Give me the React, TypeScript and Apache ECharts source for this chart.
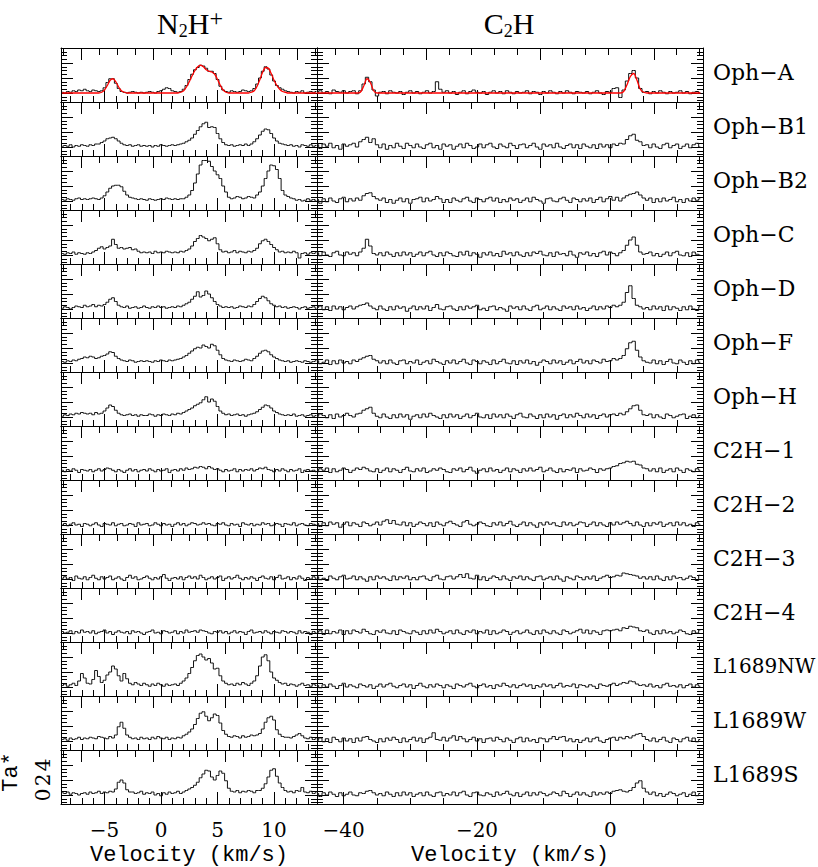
import React, { useEffect, useRef } from "react";
import * as echarts from "echarts";

const SOURCES = ["Oph\u2212A", "Oph\u2212B1", "Oph\u2212B2", "Oph\u2212C", "Oph\u2212D", "Oph\u2212F", "Oph\u2212H", "C2H\u22121", "C2H\u22122", "C2H\u22123", "C2H\u22124", "L1689NW", "L1689W", "L1689S"];

// channel grids (km/s); spectra values are in units of 0.1 K
const N2H_V0 = -8.75;
const N2H_DV = 0.25;
const C2H_V0 = -44;
const C2H_DV = 0.5;
const VALUE_SCALE = 0.1;

// tick values
const N2H_TICKS = [-5, 0, 5, 10];
const N2H_MINOR_TICKS = [-8, -7, -6, -5, -4, -3, -2, -1, 0, 1, 2, 3, 4, 5, 6, 7, 8, 9, 10, 11, 12, 13];
const C2H_TICKS = [-40, -20, 0];
const C2H_MINOR_TICKS = [-40, -35, -30, -25, -20, -15, -10, -5, 0, 5, 10];
const N2H_TOP_TICKS = [0, 4, 8, 12];
const N2H_TOP_MINOR_TICKS = [-1, 0, 1, 2, 3, 4, 5, 6, 7, 8, 9, 10, 11, 12, 13];
const C2H_TOP_TICKS = [0, 5, 10];
const C2H_TOP_MINOR_TICKS = [-4, -3, -2, -1, 0, 1, 2, 3, 4, 5, 6, 7, 8, 9, 10, 11, 12];
const TA_TICKS = [0, 2, 4];
const TA_MAJOR_TICKS = [0, 2, 4, 6];
const TA_MINOR_TICKS = [-1, -0.5, 0, 0.5, 1, 1.5, 2, 2.5, 3, 3.5, 4, 4.5, 5, 5.5, 6];

// ---- N2H+ spectra (91 channels) ----
const N2H_OPH_A = [1,0,2,1,3,2,4,3,5,3, 2,4,3,2,3,7,14,19,19,13, 6,2,1,0,1,2,1,0,1,0, 1,2,1,0,2,3,5,7,6,3, 2,1,2,5,10,18,25,31,34,37, 36,33,29,29,26,18,9,4,2,1, 3,2,1,2,4,3,2,3,6,12, 20,29,35,32,24,16,10,7,5,3, 2,1,0,2,1,3,0,1,2,1,2];
const N2H_FIT_OPH_A = [0,0,0,0,0,0,0,0,0,0, 0,0,0,0,1,4,10,17,19,15, 8,3,1,0,0,0,0,0,0,0, 0,0,0,0,0,0,0,0,0,0, 0,0,1,3,8,15,23,30,35,37, 35,31,29,28,25,18,10,4,1,0, 0,0,0,0,0,0,0,1,3,9, 18,28,34,33,26,17,10,5,2,1, 0,0,0,0,0,0,0,0,0,0,0];
const N2H_OPH_B1 = [1,2,1,3,0,2,1,3,2,1, 3,2,4,4,6,8,11,12,13,11, 8,5,3,2,3,1,2,3,1,2, 1,2,0,2,1,3,2,1,2,3, 2,3,4,5,7,9,12,17,22,27, 31,33,26,27,26,18,11,6,3,2, 3,1,2,3,2,4,2,4,7,11, 16,21,24,23,18,12,8,5,4,3, 2,3,1,2,0,3,2,1,3,1,2];
const N2H_OPH_B2 = [2,1,3,2,1,3,4,2,3,2, 3,4,3,2,4,7,12,17,20,21, 21,19,13,8,5,4,3,2,3,2, 1,3,2,1,2,3,2,4,3,2, 3,2,3,3,5,8,14,24,36,48, 54,54,53,46,40,35,30,20,12,5, 3,4,6,5,3,4,6,5,4,8, 12,20,30,40,48,47,42,30,14,8, 6,4,3,1,2,0,1,3,1,2,0];
const N2H_OPH_C = [2,1,3,2,4,1,3,2,1,3, 2,4,6,9,11,8,10,12,21,14, 9,10,8,9,10,7,8,5,3,4, 3,4,2,5,3,4,3,5,4,3, 4,3,5,4,6,8,12,18,22,26, 24,22,19,21,23,15,7,4,5,3, 4,6,3,5,4,3,5,4,6,9, 15,19,21,18,14,10,7,4,5,3, 4,3,5,3,-4,2,3,1,3,2,3];
const N2H_OPH_D = [1,3,2,0,2,4,3,2,5,3, 4,6,3,5,4,6,9,13,15,10, 5,3,2,4,1,2,3,1,2,4, 2,1,3,2,4,2,3,1,2,3, 2,4,3,5,7,9,13,17,23,16, 18,24,20,15,10,6,4,2,3,2, 3,1,2,4,3,2,4,3,6,10, 14,17,15,11,7,5,3,4,2,3, 1,2,3,2,0,2,3,1,2,3,1];
const N2H_OPH_F = [2,1,3,2,4,3,5,6,8,7, 9,8,6,7,9,10,12,15,14,9, 6,4,3,2,4,3,1,2,3,2, 3,2,1,3,2,4,3,2,4,3, 4,5,6,8,10,13,16,19,21,20, 24,22,20,25,23,17,11,6,4,3, 2,4,3,2,3,5,4,3,6,9, 13,16,17,15,11,8,6,4,3,2, 3,1,2,3,2,1,3,2,1,2,3];
const N2H_OPH_H = [1,3,2,4,3,5,4,6,5,4, 5,3,6,4,5,8,12,16,14,9, 5,3,2,3,4,2,3,1,3,2, 2,4,3,1,3,2,4,3,2,4, 3,5,4,6,8,10,12,15,17,19, 23,27,20,24,21,14,8,5,3,4, 2,3,4,2,3,1,3,4,5,7, 10,13,16,15,12,8,6,4,3,2, 3,2,4,1,2,3,1,2,3,1,2];
const N2H_C2H_1 = [1,-1,2,0,3,1,-2,2,1,0, 2,-1,1,3,0,2,4,3,1,-1, 2,0,-2,1,3,0,2,-1,1,2, 0,3,1,-1,2,0,1,3,-2,1, 2,0,3,1,4,2,3,5,4,6, 5,3,6,4,2,3,1,-1,2,0, 1,3,-1,2,0,2,1,3,0,2, 4,3,5,2,1,-1,2,0,3,1, -1,2,0,1,3,-2,1,2,0,1,-1];
const N2H_C2H_2 = [0,2,-1,1,3,0,1,-2,2,1, -1,1,3,0,-2,2,1,0,3,-1, 1,2,-1,0,2,1,-2,3,0,1, 2,-1,0,3,1,-1,2,0,1,-2, 1,3,0,2,-1,1,3,2,0,1, 3,1,2,0,-1,2,1,3,0,-1, 2,0,1,-2,3,1,0,2,-1,1, 0,3,1,2,-1,0,2,1,-2,2, 1,0,3,-1,1,2,0,-1,2,1,0];
const N2H_C2H_3 = [1,3,0,2,-2,4,1,0,3,-1, 2,5,1,-1,3,0,2,4,-1,1, 3,0,-2,2,5,1,3,-1,0,2, 4,1,-1,2,0,3,6,1,-2,1, 2,0,3,-1,2,4,1,3,0,5, 2,-1,1,3,0,2,4,-2,1,3, 0,2,5,1,-1,2,0,3,1,-2, 2,4,1,0,3,-1,2,5,0,1, 3,-1,2,0,4,1,-2,2,0,3,1];
const N2H_C2H_4 = [2,0,1,3,-1,2,0,4,1,2, 0,3,-1,1,2,4,0,2,-2,1, 3,1,0,2,-1,3,1,2,0,-2, 1,2,4,0,1,-1,3,2,0,1, 3,-1,2,0,4,1,2,3,1,4, 3,2,0,-1,2,1,3,0,2,-1, 1,3,0,2,1,-2,2,4,0,1, 2,0,3,1,-1,2,1,0,3,2, 0,2,1,-1,3,0,2,1,-2,2,0];
const N2H_L1689NW = [2,4,1,3,5,2,8,18,12,5, 4,10,22,14,6,9,16,20,28,24, 15,8,18,11,5,3,6,4,2,5, 3,1,4,2,5,3,1,4,2,3, 4,2,5,8,12,18,26,35,42,44, 40,36,38,32,24,25,15,8,5,3, 4,2,5,3,6,4,2,5,8,15, 28,40,43,35,20,12,9,6,4,5, 2,4,3,1,3,5,2,3,1,4,2];
const N2H_L1689W = [2,3,1,4,2,3,5,2,4,3, 5,4,3,6,5,4,3,6,4,8, 19,25,17,8,5,3,4,2,5,3, 4,2,5,3,6,4,3,5,2,4, 3,5,4,7,9,12,16,22,30,37, 39,33,27,31,36,34,24,14,9,6, 5,7,6,4,7,5,6,8,7,8, 10,16,25,31,33,28,15,9,6,5, 5,4,6,8,10,7,4,3,5,2,3];
const N2H_L1689S = [3,2,4,1,3,2,0,2,3,1, 4,2,3,5,2,4,3,5,4,8, 17,20,16,7,4,4,2,3,5,1, 3,2,4,0,2,-1,3,1,4,2, 3,5,2,4,6,8,10,13,17,23, 28,33,32,24,20,26,32,29,19,9, 5,4,6,3,5,4,6,5,3,6, 6,9,15,24,33,35,25,16,10,6, 4,5,3,6,5,10,4,3,5,2,3];

// ---- C2H spectra (116 channels) ----
const C2H_OPH_A = [1,3,0,2,-1,4,2,1,3,0, 2,3,-1,3,12,21,15,4,-4,1, 2,-1,3,1,0,2,-2,1,3,0, 2,-1,1,3,0,2,15,5,1,3, 0,2,-2,1,3,-1,2,4,1,0, 2,-2,1,3,0,2,-1,3,1,-1, 2,0,1,3,-1,2,1,-2,2,0, 3,1,-1,2,0,3,1,-1,2,1, 0,2,-1,1,3,0,-2,2,1,6, 7,-6,4,16,26,30,20,6,1,2, -1,2,0,3,1,-1,2,0,1,3, 0,2,-1,1,2,0];
const C2H_FIT_OPH_A = [0,0,0,0,0,0,0,0,0,0, 0,0,0,1,9,19,14,3,0,0, 0,0,0,0,0,0,0,0,0,0, 0,0,0,0,0,0,0,0,0,0, 0,0,0,0,0,0,0,0,0,0, 0,0,0,0,0,0,0,0,0,0, 0,0,0,0,0,0,0,0,0,0, 0,0,0,0,0,0,0,0,0,0, 0,0,0,0,0,0,0,0,0,0, 0,0,2,11,22,26,17,5,1,0, 0,0,0,0,0,0,0,0,0,0, 0,0,0,0,0,0];
const C2H_OPH_B1 = [3,-2,4,1,5,-1,2,-3,4,1, 3,5,0,7,10,13,6,11,3,-1, 4,-3,2,-1,5,1,-2,5,2,-1, 4,0,-2,3,5,-1,2,-3,4,1, 3,-3,1,4,-1,5,2,-2,0,4, -1,3,5,0,-2,4,1,-1,5,2, -2,3,4,-1,2,5,0,-3,4,1, 3,-1,5,0,-2,2,4,-1,3,-2, 4,1,-1,3,-2,4,0,3,-1,4, 2,5,4,10,15,17,9,7,2,3, -1,4,0,-2,3,5,-1,2,4,-2, 1,4,-1,3,5,0];
const C2H_OPH_B2 = [2,-3,3,-1,4,0,-2,3,5,-1, 3,0,4,1,7,10,11,6,3,1, 4,-2,2,-3,1,4,-1,3,-3,2, 3,5,-1,4,0,2,6,3,-2,2, -2,4,1,-1,3,5,0,-2,4,2, -1,3,5,0,4,-2,2,-1,4,1, 3,-2,1,4,-1,5,2,0,-3,3, 4,0,-1,3,5,1,-2,4,2,-1, 3,0,4,-2,2,5,-1,3,6,1, 5,0,4,7,9,10,12,8,4,1, 4,-2,3,-1,4,0,2,5,-1,2, -2,3,0,4,1,3];
const C2H_OPH_C = [3,-1,4,0,-2,3,5,0,-1,4, 1,3,-1,4,9,21,12,2,0,3, -1,4,1,-2,3,-1,4,0,3,-2, 1,4,-1,3,5,0,-2,3,-1,4, 2,-1,-2,4,0,5,-1,3,1,-3, 3,0,4,-1,2,-2,5,1,3,-1, 4,0,-2,3,-1,4,2,5,0,-1, 3,-2,4,1,2,-1,5,0,-3,3, 1,4,-1,2,-2,3,5,0,4,2, -1,3,6,13,20,24,13,4,1,2, 4,-1,2,-2,1,4,-1,3,5,0, -1,3,-2,4,1,0];
const C2H_OPH_D = [2,4,-1,3,-2,4,0,3,-1,2, 4,0,3,5,6,8,4,1,-1,4, 0,-2,3,-1,4,1,3,-3,1,4, -1,3,0,4,-2,2,6,0,-1,3, 4,0,-2,3,-1,4,1,3,5,-1, 1,-2,3,4,-1,2,0,-3,4,1, 3,-1,4,0,-2,3,5,-1,1,4, -1,3,0,-2,4,1,3,-1,4,0, 2,-2,1,4,-1,3,0,4,2,5, 3,5,9,22,31,14,5,3,0,2, -1,4,0,3,-2,4,-1,3,1,-2, 3,-1,4,0,-2,3];
const C2H_OPH_F = [3,-1,1,4,-2,3,-1,4,0,2, -1,4,2,5,7,9,10,5,3,0, 3,-1,4,0,-2,3,4,-1,2,0, 4,-2,1,3,-1,5,2,0,-2,3, 0,4,-1,2,5,0,-2,4,2,-1, 3,1,-2,4,-1,2,5,0,-1,3, -2,3,0,4,-1,2,-3,1,4,2, -1,4,0,3,-2,1,4,-1,2,5, 0,3,-1,4,2,0,5,2,3,6, 4,6,10,19,27,29,17,8,3,1, 0,4,-1,3,-2,2,5,0,-1,4, 1,-2,3,-1,4,1];
const C2H_OPH_H = [1,4,2,-1,3,-2,4,0,2,5, 2,0,4,5,9,11,13,5,1,-1, 4,0,-2,3,-1,4,0,3,-3,1, 3,-1,4,0,5,2,0,-2,3,-1, 4,0,3,-2,1,4,-1,2,5,0, -1,3,-2,4,0,3,-1,4,1,-2, 3,5,0,-1,4,1,-2,3,-1,4, 0,3,-3,2,4,-1,3,0,5,2, -1,4,0,3,-2,2,4,0,3,4, 2,5,3,7,11,15,16,9,3,2, 4,-1,3,0,-2,4,2,-1,1,3, 4,-2,1,3,-1,2];
const C2H_C2H_1 = [-1,3,1,4,-2,3,-1,1,4,2, -2,1,4,2,5,3,0,-1,3,-2, 1,4,-1,3,1,-2,2,5,0,-1, 3,0,4,-2,0,3,1,4,2,-1, -2,3,1,4,-1,2,5,0,-3,1, 3,-1,4,0,2,-2,1,4,-1,3, 1,-2,3,0,4,0,2,5,-1,1, 4,0,-2,3,-1,2,1,4,-2,3, 0,1,4,2,-2,3,1,3,4,6, 7,10,11,13,12,13,9,8,4,3, 0,3,-1,4,-2,1,3,-1,4,1, -2,3,1,-1,3,1];
const C2H_C2H_2 = [2,-2,3,-1,4,1,3,-3,1,4, -1,3,1,-2,4,2,-1,1,4,0, 5,7,2,6,1,0,4,-1,3,-2, 1,4,2,-1,3,-2,4,1,-1,3, 5,2,0,-2,4,6,1,-1,1,4, 2,-1,-2,3,0,4,-1,2,5,0, -2,1,4,-1,3,0,-3,3,0,4, 1,3,-1,-2,4,0,3,-1,1,4, 3,-2,1,4,-1,3,0,-2,3,0, 4,1,3,5,2,-1,4,0,-2,3, -1,3,1,4,-2,1,3,-1,4,0, 3,-1,1,-2,3,1];
const C2H_C2H_3 = [3,-1,1,-2,4,1,-1,3,5,0, 1,4,-1,3,0,-3,3,-1,4,1, 3,0,-2,4,-1,3,1,4,-1,2, -1,3,4,0,-2,3,5,0,-1,3, 4,0,3,6,2,7,1,0,5,-1, 3,-2,1,4,2,-1,4,0,-2,3, 1,4,-1,3,0,-2,3,4,-1,1, 3,-1,4,0,-3,3,1,-1,4,2, -1,3,0,4,-2,1,3,5,2,3, 5,4,8,7,6,5,4,1,3,0, 3,-1,4,0,-2,3,-1,4,1,2, -1,1,4,2,-2,5];
const C2H_C2H_4 = [1,3,-2,4,-1,2,0,4,-2,3, -1,4,2,0,5,2,-1,-2,3,1, 4,0,-1,3,-2,4,2,0,-1,3, 1,-2,3,-1,4,0,5,2,-1,1, 3,-1,4,0,-2,3,1,4,-1,2, 0,4,-2,3,-1,1,4,2,-2,1, 3,-1,1,4,0,-2,3,-1,4,1, -1,3,0,-2,4,2,-1,1,3,5, 0,4,-1,3,1,-2,3,4,3,4, 5,3,7,6,9,8,7,3,2,4, 0,-2,3,-1,4,0,2,-1,1,4, 2,-1,-2,3,0,4];
const C2H_L1689NW = [2,-1,3,0,4,1,-2,2,5,0, 3,1,-1,4,2,0,3,-2,1,4, 0,3,5,1,-1,2,4,0,3,-2, 2,5,1,-1,3,0,4,2,-1,3, 1,-2,4,2,0,3,5,1,-1,2, 4,0,2,-2,3,1,5,2,0,3, -1,2,4,1,3,-2,2,0,4,1, 3,-1,2,5,0,2,1,4,-1,3, 2,0,3,1,-2,4,2,1,3,5, 2,4,6,5,8,7,4,2,3,1, 4,0,2,-1,3,5,1,2,0,3, -1,2,4,0,3,1];
const C2H_L1689W = [1,4,-1,3,-2,5,2,-1,4,0, 3,-2,4,0,5,6,2,0,-2,3, -1,4,1,5,2,-2,4,-1,2,5, 0,4,-2,3,5,11,2,1,5,0, 4,7,1,6,3,-1,2,5,0,3, -2,3,4,0,5,2,-1,4,1,-2, 3,5,-1,4,0,2,-2,4,3,-1, 3,6,2,5,6,0,3,-1,2,-2, 1,4,-1,3,5,0,-2,2,4,5, 1,5,3,6,4,7,9,10,6,2, 0,4,-1,2,5,0,-2,4,2,-1, 3,5,0,4,-1,2];
const C2H_L1689S = [2,-2,3,0,4,1,-2,3,-1,1, 4,0,-1,3,2,5,6,3,0,2, -1,4,1,-2,3,-1,4,0,3,-2, 1,3,-1,4,0,-2,3,4,-1,2, 0,4,-1,3,5,0,-2,3,4,0, -1,3,1,-2,4,0,2,5,1,-1, 3,-2,1,4,-1,3,0,4,2,-1, 1,4,2,-1,5,2,-2,1,4,0, 3,0,-2,4,0,3,1,4,2,5, 6,7,5,4,6,10,16,19,9,4, 1,4,-1,2,-2,1,4,2,-1,1, 3,-2,1,4,-1,2];

const N2H_SPECTRA = [N2H_OPH_A, N2H_OPH_B1, N2H_OPH_B2, N2H_OPH_C, N2H_OPH_D, N2H_OPH_F, N2H_OPH_H, N2H_C2H_1, N2H_C2H_2, N2H_C2H_3, N2H_C2H_4, N2H_L1689NW, N2H_L1689W, N2H_L1689S];
const C2H_SPECTRA = [C2H_OPH_A, C2H_OPH_B1, C2H_OPH_B2, C2H_OPH_C, C2H_OPH_D, C2H_OPH_F, C2H_OPH_H, C2H_C2H_1, C2H_C2H_2, C2H_C2H_3, C2H_C2H_4, C2H_L1689NW, C2H_L1689W, C2H_L1689S];

const ROW_TOP = 48;
const ROW_H = 54;
const Y_MIN = -1.2;
const Y_MAX = 6;

const PANELS = [
  { left: 61, width: 256, min: -8.85, max: 13.8, major: N2H_TICKS, minor: N2H_MINOR_TICKS, topMin: -1.15, topMax: 13.07, topMajor: N2H_TOP_TICKS, topMinor: N2H_TOP_MINOR_TICKS, labels: N2H_TICKS, v0: N2H_V0, dv: N2H_DV, spectra: N2H_SPECTRA, fit: N2H_FIT_OPH_A },
  { left: 317, width: 386, min: -44, max: 13.9, major: C2H_TICKS, minor: C2H_MINOR_TICKS, topMin: -4.79, topMax: 12.16, topMajor: C2H_TOP_TICKS, topMinor: C2H_TOP_MINOR_TICKS, labels: C2H_TICKS, v0: C2H_V0, dv: C2H_DV, spectra: C2H_SPECTRA, fit: C2H_FIT_OPH_A },
];

const BLACK = { color: "#000", width: 1 };
const fmt = (v: number) => (v < 0 ? "\u2212" + Math.abs(v) : String(v));

function axis(gi: number, pos: string, min: number, max: number, ticks: number[], len: number, showLine: boolean, label: any) {
  return {
    type: "value",
    gridIndex: gi,
    position: pos,
    min,
    max,
    silent: true,
    axisLine: { show: showLine, onZero: false, lineStyle: BLACK },
    axisTick: { show: true, inside: true, length: len, lineStyle: BLACK, customValues: ticks },
    axisLabel: label || { show: false },
    splitLine: { show: false },
    minorTick: { show: false },
    axisPointer: { show: false },
  };
}

function buildOption() {
  const grid: any[] = [];
  const xAxis: any[] = [];
  const yAxis: any[] = [];
  const series: any[] = [];
  SOURCES.forEach((_, r) => {
    PANELS.forEach((p, pi) => {
      const gi = grid.length;
      grid.push({ left: p.left, top: ROW_TOP + ROW_H * r, width: p.width, height: ROW_H, containLabel: false });
      const last = r === SOURCES.length - 1;
      const xi = xAxis.length;
      xAxis.push(
        axis(gi, "bottom", p.min, p.max, p.major, 12, true, last ? {
          show: true, margin: 16, color: "#000", fontSize: 20, lineHeight: 20, fontFamily: "DejaVu Serif",
          customValues: p.labels,
          formatter: (v: number) => fmt(v),
        } : null)
      );
      xAxis.push(axis(gi, "bottom", p.min, p.max, p.minor, 6, false, null));
      xAxis.push(axis(gi, "top", p.topMin, p.topMax, p.topMajor, 12, true, null));
      xAxis.push(axis(gi, "top", p.topMin, p.topMax, p.topMinor, 7, false, null));
      const yi = yAxis.length;
      yAxis.push(
        axis(gi, "left", Y_MIN, Y_MAX, TA_MAJOR_TICKS, 12, true, last && pi === 0 ? {
          show: true, rotate: 90, margin: 8, color: "#000", fontSize: 20, lineHeight: 20, fontFamily: "DejaVu Serif",
          customValues: TA_TICKS,
          formatter: (v: number) => String(v),
        } : null)
      );
      yAxis.push(axis(gi, "left", Y_MIN, Y_MAX, TA_MINOR_TICKS, 6, false, null));
      yAxis.push(axis(gi, "right", Y_MIN, Y_MAX, TA_MAJOR_TICKS, 12, true, null));
      yAxis.push(axis(gi, "right", Y_MIN, Y_MAX, TA_MINOR_TICKS, 6, false, null));
      const spec = p.spectra[r];
      series.push({
        type: "line",
        xAxisIndex: xi,
        yAxisIndex: yi,
        step: "middle",
        symbol: "none",
        silent: true,
        clip: true,
        lineStyle: { color: "#111", width: 1 },
        data: spec.map((t, i) => [p.v0 + i * p.dv, t * VALUE_SCALE]),
      });
      if (r === 0) {
        series.push({
          type: "line",
          xAxisIndex: xi,
          yAxisIndex: yi,
          smooth: 0.3,
          symbol: "none",
          silent: true,
          clip: true,
          z: 3,
          lineStyle: { color: "#ff0000", width: 1.3 },
          data: p.fit.map((t, i) => [p.v0 + i * p.dv, t * VALUE_SCALE]),
        });
      }
    });
  });

  const graphic: any[] = [];
  const titleRich = {
    a: { fontSize: 30, fontFamily: "Liberation Serif", lineHeight: 34, fill: "#000" },
    b: { fontSize: 18, fontFamily: "Liberation Serif", lineHeight: 26, verticalAlign: "bottom", fill: "#000" },
    c: { fontSize: 24, fontFamily: "Liberation Serif", lineHeight: 26, verticalAlign: "top", fill: "#000" },
  };
  graphic.push({ type: "text", x: 190, y: 23, style: { text: "{a|N}{b|2}{a|H}{c|+}", rich: titleRich, align: "center", verticalAlign: "middle" } });
  graphic.push({ type: "text", x: 509, y: 23, style: { text: "{a|C}{b|2}{a|H}", rich: titleRich, align: "center", verticalAlign: "middle" } });
  SOURCES.forEach((name, r) => {
    graphic.push({ type: "text", x: 713, y: ROW_TOP + ROW_H * r + 24, style: { text: name, fill: "#000", fontSize: name.length > 6 ? 20 : 22, fontFamily: "DejaVu Serif", align: "left", verticalAlign: "middle" } });
  });
  [189, 510].forEach((x) => {
    graphic.push({ type: "text", x, y: 855, style: { text: "Velocity (km/s)", fill: "#000", fontSize: 22, lineHeight: 22, fontFamily: "Liberation Mono", align: "center", verticalAlign: "middle" } });
  });
  graphic.push({ type: "text", x: 11, y: 772, rotation: Math.PI / 2, style: { text: "Ta*", fill: "#000", fontSize: 22, lineHeight: 22, fontFamily: "Liberation Mono", align: "center", verticalAlign: "middle" } });

  return { animation: false, backgroundColor: "#fff", grid, xAxis, yAxis, series, graphic };
}

export default function App() {
  const ref = useRef<HTMLDivElement>(null);
  useEffect(() => {
    if (!ref.current) return;
    const chart = echarts.init(ref.current, null, { renderer: "svg" });
    chart.setOption(buildOption() as any);
    return () => chart.dispose();
  }, []);
  return <div ref={ref} style={{ position: "absolute", left: 0, top: 0, width: 818, height: 867, background: "#fff" }} />;
}
